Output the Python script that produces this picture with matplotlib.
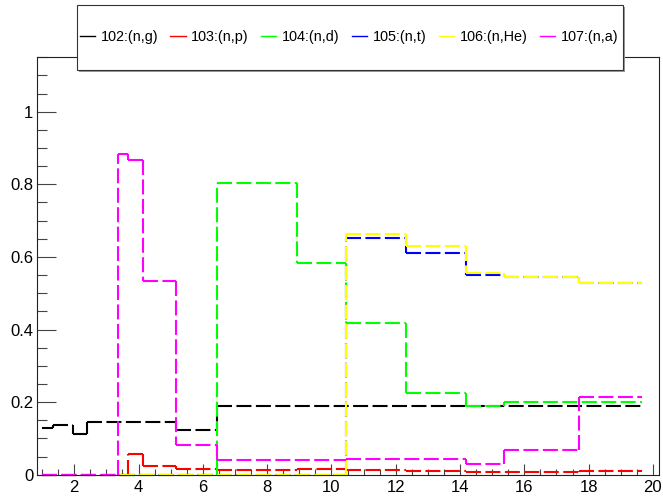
import matplotlib
matplotlib.use("Agg")
import matplotlib.pyplot as plt
from matplotlib.lines import Line2D
from matplotlib.patches import Rectangle
from matplotlib.ticker import MultipleLocator

plt.rcParams["font.family"] = ["Liberation Sans", "DejaVu Sans"]
plt.rcParams["lines.scale_dashes"] = False

# bin edges (MeV) shared by all channels
edges = [1.0, 1.35, 1.95, 2.39, 3.35, 3.66, 4.15, 5.18, 6.43, 8.92,
         10.45, 12.32, 14.18, 15.37, 17.71, 19.65]

# values per bin
n_g = [0.130, 0.137, 0.112, 0.145, 0.145, 0.145, 0.145, 0.123, 0.190,
       0.190, 0.190, 0.190, 0.190, 0.190, 0.190]
n_p = [0.0, 0.0, 0.0, 0.0, 0.0, 0.058, 0.025, 0.017, 0.012, 0.015,
       0.014, 0.010, 0.007, 0.007, 0.009]
n_d = [0.0, 0.0, 0.0, 0.0, 0.0, 0.0, 0.0, 0.0, 0.803, 0.582, 0.418,
       0.225, 0.190, 0.200, 0.200]
n_t = [0.0, 0.0, 0.0, 0.0, 0.0, 0.0, 0.0, 0.0, 0.0, 0.0, 0.653, 0.610,
       0.551, 0.545, 0.527]
n_he = [0.0, 0.0, 0.0, 0.0, 0.0, 0.0, 0.0, 0.0, 0.0, 0.0, 0.662, 0.630,
        0.555, 0.545, 0.527]
n_a = [0.0, 0.0, 0.0, 0.0, 0.884, 0.867, 0.533, 0.083, 0.040, 0.040,
       0.044, 0.044, 0.030, 0.067, 0.213]

labels = ["102:(n,g)", "103:(n,p)", "104:(n,d)", "105:(n,t)", "106:(n,He)", "107:(n,a)"]
colors = ["#000000", "#ff0000", "#00ff00", "#0000ff", "#ffff00", "#ff00ff"]
series = [n_g, n_p, n_d, n_t, n_he, n_a]

y_ticks = [0.0, 0.2, 0.4, 0.6, 0.8, 1.0]
x_ticks = [2, 4, 6, 8, 10, 12, 14, 16, 18, 20]


def hist_segments(edges, vals):
    # step outline, one piece per flat run / vertical jump
    segs = []
    start = 0
    for i in range(1, len(vals) + 1):
        if i == len(vals) or vals[i] != vals[start]:
            segs.append(((edges[start], edges[i]), (vals[start], vals[start])))
            if i < len(vals):
                segs.append(((edges[i], edges[i]), (vals[start], vals[i])))
            start = i
    return segs


fig = plt.figure(figsize=(6.63, 4.97), dpi=100)
ax = fig.add_axes([37.3 / 663, 1 - 474.7 / 497, 621.7 / 663, 417.4 / 497])

for vals, color in zip(series, colors):
    for xs, ys in hist_segments(edges, vals):
        ax.plot(xs, ys, color=color, lw=1.5, dashes=(10.8, 3.2),
                dash_capstyle="butt", solid_capstyle="butt", clip_on=False)

ax.set_xlim(0.85, 20.19)
ax.set_ylim(0, 1.15)
ax.set_xticks(x_ticks)
ax.set_xticklabels([str(t) for t in x_ticks])
ax.set_yticks(y_ticks)
ax.set_yticklabels(["%g" % t for t in y_ticks])
ax.xaxis.set_minor_locator(MultipleLocator(0.5))
ax.yaxis.set_minor_locator(MultipleLocator(0.05))
ax.tick_params(axis="x", which="major", direction="in", length=7.9, width=0.8,
               color="#444444", labelsize=12, pad=4)
ax.tick_params(axis="x", which="minor", direction="in", length=4, width=0.8,
               color="#444444")
ax.tick_params(axis="y", which="major", direction="in", length=13.7, width=0.8,
               color="#444444", labelsize=12, pad=3)
ax.tick_params(axis="y", which="minor", direction="in", length=7.2, width=0.8,
               color="#444444")
for sp in ax.spines.values():
    sp.set_linewidth(0.8)
    sp.set_color("#222222")

# legend box with a thin shadow, ROOT style
fig.patches.append(Rectangle((78.5 / 663, 1 - 71.5 / 497), 546 / 663, 65 / 497,
                             transform=fig.transFigure, facecolor="#999999",
                             edgecolor="none", zorder=3))
fig.patches.append(Rectangle((77 / 663, 1 - 70 / 497), 546 / 663, 65 / 497,
                             transform=fig.transFigure, facecolor="white",
                             edgecolor="#333333", lw=0.8, zorder=4))
handles = [Line2D([], [], color=c, lw=1.0) for c in colors]
leg = fig.legend(handles, labels, loc="center left",
                 bbox_to_anchor=(79.5 / 663, 1 - 37.5 / 497), ncol=6,
                 frameon=False, fontsize=10.4, handlelength=1.05,
                 handletextpad=0.4, columnspacing=0.85, borderpad=0,
                 borderaxespad=0)
leg.set_zorder(5)

fig.savefig("out.png", dpi=100)
